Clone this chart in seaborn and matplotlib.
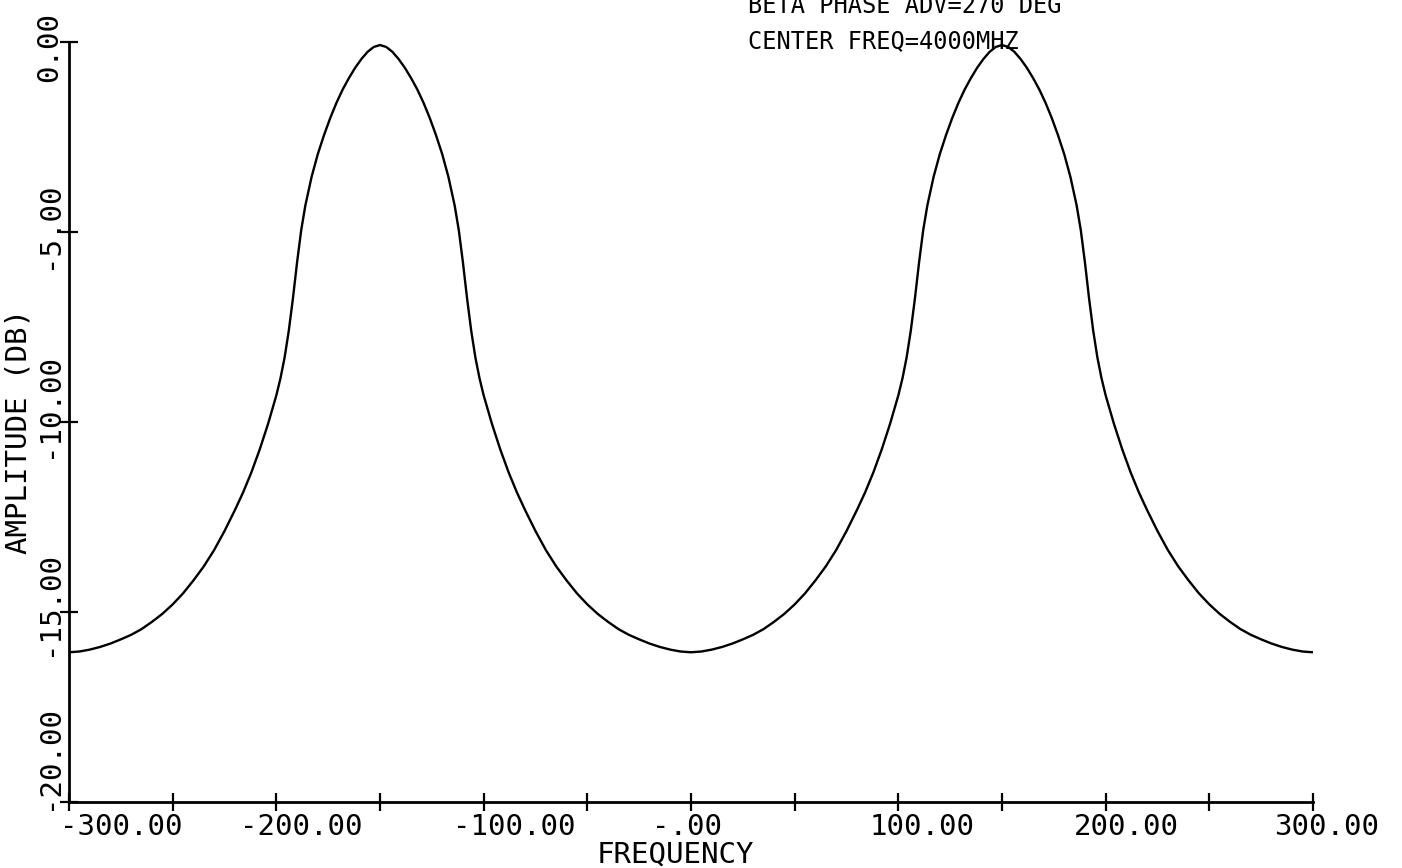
"""Filter amplitude response vs. frequency, redrawn in old pen-plotter style."""

import matplotlib

matplotlib.use("Agg")

import matplotlib.pyplot as plt
import matplotlib.transforms as mtransforms
import pandas as pd
import seaborn as sns

# ---------- data ----------

FREQ_MHZ = [
    -300, -295, -290, -285, -280, -275, -270, -265, -260, -255, -250, -245, -240,
    -235, -230, -225, -220, -216, -212, -208, -204, -200, -198, -196, -194, -192,
    -190, -188, -186, -183, -180, -177, -174, -171, -168, -165, -162, -159, -156,
    -153, -150,
    -147, -144, -141, -138, -135, -132, -129, -126, -123, -120, -117, -114, -112,
    -110, -108, -106, -104, -102, -100, -96, -92, -88, -84, -80, -75, -70, -65,
    -60, -55, -50, -45, -40, -35, -30, -25, -20, -15, -10, -5, 0,
    5, 10, 15, 20, 25, 30, 35, 40, 45, 50, 55, 60, 65, 70, 75, 80, 84, 88, 92, 96,
    100, 102, 104, 106, 108, 110, 112, 114, 117, 120, 123, 126, 129, 132, 135,
    138, 141, 144, 147, 150,
    153, 156, 159, 162, 165, 168, 171, 174, 177, 180, 183, 186, 188, 190, 192,
    194, 196, 198, 200, 204, 208, 212, 216, 220, 225, 230, 235, 240, 245, 250,
    255, 260, 265, 270, 275, 280, 285, 290, 295, 300,
]

AMP_DB = [
    -16.06, -16.04, -15.99, -15.92, -15.83, -15.72, -15.6, -15.45, -15.26, -15.05,
    -14.8, -14.51, -14.17, -13.8, -13.37, -12.87, -12.32, -11.85, -11.32, -10.72,
    -10.05, -9.3, -8.85, -8.3, -7.6, -6.75, -5.8, -4.95, -4.3, -3.55, -2.95,
    -2.45, -2.0, -1.6, -1.25, -0.95, -0.68, -0.45, -0.26, -0.13, -0.08,
    -0.13, -0.26, -0.45, -0.68, -0.95, -1.25, -1.6, -2.0, -2.45, -2.95, -3.55,
    -4.3, -4.95, -5.8, -6.75, -7.6, -8.3, -8.85, -9.3, -10.05, -10.72, -11.32,
    -11.85, -12.32, -12.87, -13.37, -13.8, -14.17, -14.51, -14.8, -15.05, -15.26,
    -15.45, -15.6, -15.72, -15.83, -15.92, -15.99, -16.04, -16.06,
    -16.04, -15.99, -15.92, -15.83, -15.72, -15.6, -15.45, -15.26, -15.05, -14.8,
    -14.51, -14.17, -13.8, -13.37, -12.87, -12.32, -11.85, -11.32, -10.72, -10.05,
    -9.3, -8.85, -8.3, -7.6, -6.75, -5.8, -4.95, -4.3, -3.55, -2.95, -2.45, -2.0,
    -1.6, -1.25, -0.95, -0.68, -0.45, -0.26, -0.13, -0.08,
    -0.13, -0.26, -0.45, -0.68, -0.95, -1.25, -1.6, -2.0, -2.45, -2.95, -3.55,
    -4.3, -4.95, -5.8, -6.75, -7.6, -8.3, -8.85, -9.3, -10.05, -10.72, -11.32,
    -11.85, -12.32, -12.87, -13.37, -13.8, -14.17, -14.51, -14.8, -15.05, -15.26,
    -15.45, -15.6, -15.72, -15.83, -15.92, -15.99, -16.04, -16.06,
]

X_MAJOR = [-300, -200, -100, 0, 100, 200, 300]
X_MINOR = [-250, -150, -50, 50, 150, 250]
X_LABELS = ["-300.00", "-200.00", "-100.00", "-.00", "100.00", "200.00", "300.00"]

Y_TICKS = [0, -5, -10, -15, -20]
Y_LABELS = ["0.00", "-5.00", "-10.00", "-15.00", "-20.00"]

NOTE_LINES = ["BETA PHASE ADV=270 DEG", "CENTER FREQ=4000MHZ"]

# plotter put its labels a bit off the ticks; nudge them the same way (pixels)
X_LABEL_SHIFT = [52, 25, 31, -4, 24, 21, 14]
Y_LABEL_SHIFT = [-5, 7, 16, 8, 44]

# ---------- plot ----------

sns.set_style("ticks")
plt.rcParams["font.family"] = ["DejaVu Sans Mono", "DejaVu Sans"]
plt.rcParams["axes.labelcolor"] = "black"

W, H, DPI = 1402, 868, 100
fig = plt.figure(figsize=(W / DPI, H / DPI), dpi=DPI)
ax = fig.add_axes([69 / W, (H - 802) / H, (1313 - 69) / W, (802 - 42) / H])

df = pd.DataFrame({"freq": FREQ_MHZ, "amp": AMP_DB})
sns.lineplot(data=df, x="freq", y="amp", color="black", linewidth=1.7,
             sort=False, ax=ax)

ax.set_xlim(-300, 300)
ax.set_ylim(-20, 0)
sns.despine(ax=ax)
for side in ("left", "bottom"):
    ax.spines[side].set_linewidth(2.0)
    ax.spines[side].set_color("black")

ax.set_xticks(X_MAJOR)
ax.set_xticks(X_MINOR, minor=True)
ax.set_xticklabels(X_LABELS)
ax.set_yticks(Y_TICKS)
ax.set_yticklabels(Y_LABELS, rotation=90, va="center")

ax.tick_params(which="both", direction="inout", length=13, width=1.6,
               color="black", labelsize=21, labelcolor="black")
ax.tick_params(axis="x", pad=1.5)
ax.tick_params(axis="y", pad=-2)

for lbl, dx in zip(ax.get_xticklabels(), X_LABEL_SHIFT):
    lbl.set_transform(lbl.get_transform()
                      + mtransforms.ScaledTranslation(dx / DPI, 0, fig.dpi_scale_trans))
for lbl, dy in zip(ax.get_yticklabels(), Y_LABEL_SHIFT):
    lbl.set_transform(lbl.get_transform()
                      + mtransforms.ScaledTranslation(0, dy / DPI, fig.dpi_scale_trans))

ax.set_xlabel("FREQUENCY", fontsize=21, color="black")
ax.set_ylabel("AMPLITUDE (DB)", fontsize=21, color="black")
ax.xaxis.set_label_coords((675 - 69) / 1244, (802 - 841) / 760)
ax.yaxis.set_label_coords((33 - 69) / 1244, (802 - 432) / 760)

for i, line in enumerate(NOTE_LINES):
    fig.text(748 / W, (H - 13 - 35 * i) / H, line, fontsize=17,
             va="baseline", ha="left", color="black")

fig.savefig("out.png", dpi=DPI, facecolor="white")
